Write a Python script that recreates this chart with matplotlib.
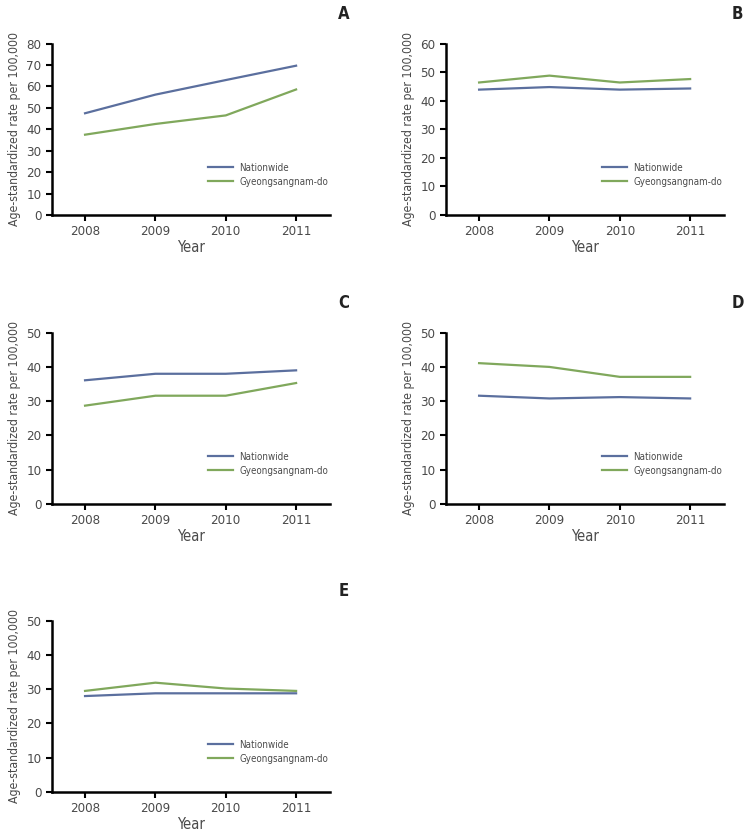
import numpy as np
import matplotlib
matplotlib.use("Agg")
from matplotlib import pyplot as plt

# narrow look like the original figure
plt.rcParams['font.family'] = ['DejaVu Sans']
plt.rcParams['font.stretch'] = 'condensed'

years = [2008, 2009, 2010, 2011]
panel_labels = ["A", "B", "C", "D", "E"]
series_names = ["Nationwide", "Gyeongsangnam-do"]

nation_A = [47.5, 56.2, 63.0, 69.7]
gyeong_A = [37.5, 42.5, 46.5, 58.6]
nation_B = [43.9, 44.8, 43.9, 44.3]
gyeong_B = [46.4, 48.8, 46.4, 47.6]
nation_C = [36.1, 38.0, 38.0, 39.0]
gyeong_C = [28.7, 31.6, 31.6, 35.3]
nation_D = [31.6, 30.8, 31.2, 30.8]
gyeong_D = [41.1, 40.0, 37.1, 37.1]
nation_E = [28.0, 28.8, 28.8, 28.8]
gyeong_E = [29.5, 31.9, 30.2, 29.5]

nation = [nation_A, nation_B, nation_C, nation_D, nation_E]
gyeong = [gyeong_A, gyeong_B, gyeong_C, gyeong_D, gyeong_E]
ymax = [80, 60, 50, 50, 50]

blue = "#5b6f9e"
green = "#80a85c"
txt = "#4a4a4a"

fig = plt.figure(figsize=(7.49, 8.36), dpi=100)

lefts = [0.0694, 0.5955, 0.0694, 0.5955, 0.0694]
bottoms = [0.7428, 0.7428, 0.3971, 0.3971, 0.0526]
w = 0.371
h = 0.205

for i in range(5):
    ax = fig.add_axes([lefts[i], bottoms[i], w, h])
    ax.plot(years, nation[i], color=blue, lw=1.6, label=series_names[0])
    ax.plot(years, gyeong[i], color=green, lw=1.6, label=series_names[1])
    ax.set_xlim(2007.53, 2011.48)
    ax.set_ylim(0, ymax[i])
    ax.set_xticks(years)
    ax.set_yticks(np.arange(0, ymax[i] + 1, 10))
    ax.spines['top'].set_visible(False)
    ax.spines['right'].set_visible(False)
    for s in ['left', 'bottom']:
        ax.spines[s].set_linewidth(1.8)
        ax.spines[s].set_color('black')
    ax.tick_params(direction='out', length=4, width=1.5, colors='black',
                   labelcolor=txt, labelsize=9.5)
    ax.set_xlabel("Year", fontsize=10.5, color=txt, labelpad=1)
    ax.set_ylabel("Age-standardized rate per 100,000", fontsize=8.8, color=txt, labelpad=4)
    ax.legend(loc='center left', bbox_to_anchor=(0.53, 0.235), frameon=False,
              fontsize=7.0, handlelength=2.6, handletextpad=0.6, labelspacing=0.4,
              labelcolor=txt)
    ax.text(1.05, 1.175, panel_labels[i], transform=ax.transAxes, fontsize=12,
            fontweight='bold', color='#222222', ha='center', va='center')

plt.savefig("out.png", dpi=100)
